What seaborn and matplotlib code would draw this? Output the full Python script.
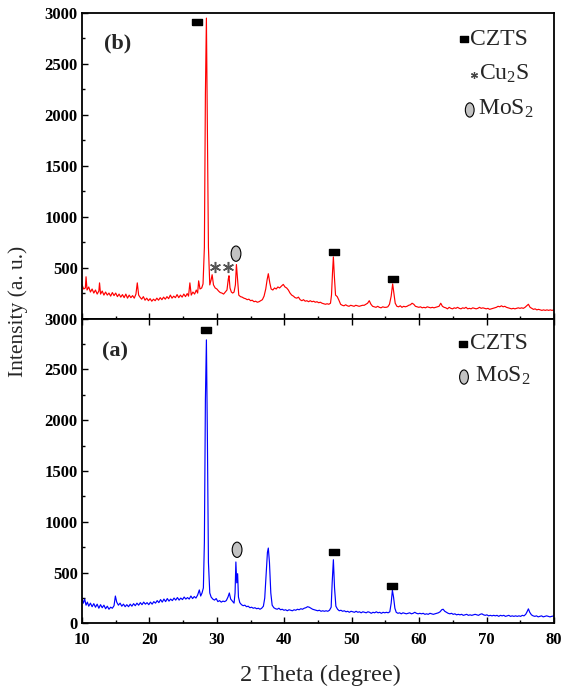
import numpy as np
import pandas as pd
import matplotlib
matplotlib.use('Agg')
import matplotlib.pyplot as plt
from matplotlib.patches import Ellipse
from matplotlib.ticker import MultipleLocator
import seaborn as sns

# (2 theta, intensity), panel (b) red
pattern_b = [
    (10.0, 330), (10.25, 290), (10.5, 300), (10.6, 410), (10.75, 280), (11.0, 310), (11.25, 260),
    (11.5, 290), (11.75, 250), (12.0, 280), (12.25, 240), (12.5, 270), (12.6, 350), (12.75, 240),
    (13.0, 270), (13.25, 230), (13.5, 260), (13.75, 230), (14.0, 250), (14.25, 220), (14.5, 255),
    (14.75, 225), (15.0, 250), (15.25, 215), (15.5, 240), (15.75, 210), (16.0, 235), (16.25, 205),
    (16.5, 240), (16.75, 200), (17.0, 230), (17.25, 205), (17.5, 225), (17.75, 200), (18.0, 240),
    (18.2, 350), (18.4, 230), (18.6, 210), (18.85, 190), (19.1, 215), (19.35, 180), (19.6, 200),
    (19.85, 175), (20.1, 195), (20.35, 170), (20.6, 190), (20.85, 175), (21.1, 200), (21.35, 180),
    (21.6, 205), (21.85, 185), (22.1, 210), (22.35, 190), (22.6, 215), (22.85, 195), (23.1, 230),
    (23.35, 200), (23.6, 220), (23.85, 205), (24.1, 235), (24.35, 205), (24.6, 230), (24.85, 210),
    (25.1, 240), (25.35, 215), (25.6, 245), (25.8, 220), (26.0, 350), (26.2, 230), (26.45, 260),
    (26.7, 240), (26.95, 280), (27.15, 250), (27.3, 370), (27.5, 290), (27.75, 300), (27.95, 340),
    (28.15, 700), (28.3, 2200), (28.45, 2950), (28.6, 1800), (28.75, 700), (28.95, 330), (29.15, 380),
    (29.3, 430), (29.5, 330), (29.75, 300), (30.0, 290), (30.25, 270), (30.5, 255), (30.75, 250),
    (31.0, 240), (31.25, 260), (31.5, 280), (31.7, 390), (31.8, 420), (31.95, 300), (32.15, 260),
    (32.35, 250), (32.55, 260), (32.75, 330), (32.9, 530), (33.05, 400), (33.25, 230), (33.5, 215),
    (33.75, 210), (34.0, 200), (34.25, 195), (34.5, 185), (34.75, 190), (35.0, 175), (35.25, 180),
    (35.5, 165), (35.75, 170), (36.0, 160), (36.25, 165), (36.5, 175), (36.75, 185), (37.0, 220),
    (37.25, 290), (37.45, 380), (37.63, 440), (37.85, 350), (38.05, 290), (38.3, 280), (38.55, 300),
    (38.8, 290), (39.05, 310), (39.3, 300), (39.6, 320), (39.85, 335), (40.1, 310), (40.35, 300),
    (40.6, 280), (40.85, 250), (41.1, 230), (41.35, 220), (41.6, 205), (41.85, 200), (42.1, 210),
    (42.35, 185), (42.6, 175), (42.85, 185), (43.1, 170), (43.35, 175), (43.6, 165), (43.85, 175),
    (44.1, 165), (44.35, 170), (44.6, 160), (44.85, 165), (45.1, 155), (45.35, 160), (45.6, 150),
    (45.85, 145), (46.1, 140), (46.35, 145), (46.6, 140), (46.85, 150), (47.0, 230), (47.15, 450),
    (47.28, 605), (47.42, 420), (47.6, 230), (47.85, 215), (48.1, 180), (48.35, 140), (48.6, 130),
    (48.85, 125), (49.1, 135), (49.35, 125), (49.6, 120), (49.85, 130), (50.1, 125), (50.35, 120),
    (50.6, 130), (50.85, 125), (51.1, 120), (51.35, 125), (51.6, 130), (51.85, 130), (52.1, 140),
    (52.35, 150), (52.6, 175), (52.85, 140), (53.1, 120), (53.35, 115), (53.6, 110), (53.85, 120),
    (54.1, 110), (54.35, 105), (54.6, 115), (54.85, 110), (55.1, 110), (55.35, 115), (55.6, 140),
    (55.85, 220), (56.07, 340), (56.25, 250), (56.45, 150), (56.7, 120), (56.95, 115), (57.2, 125),
    (57.45, 110), (57.7, 120), (57.95, 115), (58.2, 120), (58.45, 130), (58.7, 135), (58.95, 150),
    (59.2, 140), (59.45, 120), (59.7, 115), (59.95, 110), (60.2, 115), (60.45, 105), (60.7, 110),
    (60.95, 105), (61.2, 115), (61.45, 110), (61.7, 105), (61.95, 110), (62.2, 105), (62.45, 110),
    (62.7, 115), (62.95, 120), (63.2, 150), (63.45, 120), (63.7, 110), (63.95, 105), (64.2, 95),
    (64.45, 110), (64.7, 100), (64.95, 95), (65.2, 105), (65.45, 100), (65.7, 110), (65.95, 100),
    (66.2, 95), (66.45, 105), (66.7, 100), (66.95, 110), (67.2, 95), (67.45, 100), (67.7, 95),
    (67.95, 105), (68.2, 100), (68.45, 95), (68.7, 100), (68.95, 110), (69.2, 100), (69.45, 105),
    (69.7, 100), (69.95, 95), (70.2, 100), (70.45, 90), (70.7, 95), (70.95, 100), (71.2, 105),
    (71.45, 110), (71.7, 120), (71.95, 115), (72.2, 125), (72.45, 115), (72.7, 120), (72.95, 110),
    (73.2, 105), (73.45, 100), (73.7, 95), (73.95, 100), (74.2, 95), (74.45, 100), (74.7, 105),
    (74.95, 100), (75.2, 105), (75.45, 100), (75.7, 110), (75.95, 125), (76.2, 140), (76.45, 110),
    (76.7, 100), (76.95, 90), (77.2, 95), (77.45, 85), (77.7, 90), (77.95, 85), (78.2, 80),
    (78.45, 85), (78.7, 80), (78.95, 85), (79.2, 80), (79.45, 85), (79.7, 80), (80.0, 85),
]

# panel (a) blue
pattern_a = [
    (10.0, 250), (10.2, 200), (10.4, 240), (10.6, 180), (10.8, 210), (11.0, 170), (11.25, 200),
    (11.5, 165), (11.75, 195), (12.0, 160), (12.25, 190), (12.5, 150), (12.75, 185), (13.0, 155),
    (13.25, 180), (13.5, 145), (13.75, 170), (14.0, 140), (14.25, 160), (14.5, 150), (14.75, 175),
    (14.95, 270), (15.15, 210), (15.4, 180), (15.65, 200), (15.9, 170), (16.15, 190), (16.4, 165),
    (16.65, 185), (16.9, 165), (17.15, 190), (17.4, 170), (17.65, 195), (17.9, 175), (18.15, 200),
    (18.4, 180), (18.65, 205), (18.9, 185), (19.15, 210), (19.4, 190), (19.65, 205), (19.9, 185),
    (20.15, 210), (20.4, 190), (20.65, 215), (20.9, 200), (21.15, 225), (21.4, 205), (21.65, 235),
    (21.9, 210), (22.15, 240), (22.4, 215), (22.65, 245), (22.9, 220), (23.15, 240), (23.4, 225),
    (23.65, 250), (23.9, 230), (24.15, 255), (24.4, 230), (24.65, 250), (24.9, 235), (25.15, 260),
    (25.4, 240), (25.65, 255), (25.9, 240), (26.15, 270), (26.4, 245), (26.65, 265), (26.9, 250),
    (27.15, 280), (27.4, 330), (27.6, 270), (27.8, 300), (28.0, 350), (28.15, 800), (28.3, 2200),
    (28.45, 2790), (28.6, 1800), (28.75, 600), (28.95, 300), (29.15, 260), (29.4, 240), (29.65, 230),
    (29.9, 245), (30.15, 215), (30.4, 225), (30.65, 210), (30.9, 220), (31.15, 215), (31.4, 225),
    (31.65, 260), (31.85, 300), (32.05, 240), (32.3, 220), (32.55, 200), (32.7, 300), (32.82, 605),
    (32.95, 400), (33.08, 490), (33.2, 260), (33.4, 205), (33.65, 185), (33.9, 175), (34.15, 180),
    (34.4, 165), (34.65, 170), (34.9, 155), (35.15, 160), (35.4, 150), (35.65, 155), (35.9, 145),
    (36.15, 150), (36.4, 140), (36.65, 150), (36.9, 170), (37.1, 250), (37.3, 480), (37.5, 700),
    (37.63, 742), (37.8, 600), (38.0, 300), (38.2, 180), (38.45, 155), (38.7, 145), (38.95, 140),
    (39.2, 150), (39.45, 135), (39.7, 140), (39.95, 130), (40.2, 135), (40.45, 125), (40.7, 135),
    (40.95, 130), (41.2, 125), (41.45, 135), (41.7, 130), (41.95, 140), (42.2, 135), (42.45, 145),
    (42.7, 140), (42.95, 150), (43.2, 155), (43.45, 165), (43.7, 160), (43.95, 150), (44.2, 140),
    (44.45, 135), (44.7, 130), (44.95, 125), (45.2, 130), (45.45, 120), (45.7, 125), (45.95, 120),
    (46.2, 125), (46.45, 120), (46.7, 130), (46.95, 160), (47.1, 400), (47.28, 627), (47.45, 350),
    (47.65, 170), (47.9, 140), (48.15, 125), (48.4, 130), (48.65, 120), (48.9, 125), (49.15, 115),
    (49.4, 120), (49.65, 110), (49.9, 120), (50.15, 115), (50.4, 110), (50.65, 120), (50.9, 110),
    (51.15, 115), (51.4, 105), (51.65, 115), (51.9, 110), (52.15, 105), (52.4, 115), (52.65, 110),
    (52.9, 100), (53.15, 110), (53.4, 105), (53.65, 115), (53.9, 105), (54.15, 110), (54.4, 100),
    (54.65, 110), (54.9, 105), (55.15, 110), (55.4, 105), (55.65, 115), (55.85, 200), (56.03, 327),
    (56.2, 260), (56.4, 150), (56.6, 110), (56.85, 100), (57.1, 105), (57.35, 95), (57.6, 105),
    (57.85, 100), (58.1, 95), (58.35, 100), (58.6, 105), (58.85, 95), (59.1, 100), (59.35, 110),
    (59.6, 100), (59.85, 95), (60.1, 100), (60.35, 95), (60.6, 100), (60.85, 90), (61.1, 95),
    (61.35, 90), (61.6, 100), (61.85, 95), (62.1, 90), (62.35, 95), (62.6, 100), (62.85, 105),
    (63.1, 115), (63.35, 135), (63.55, 140), (63.8, 120), (64.05, 110), (64.3, 100), (64.55, 95),
    (64.8, 100), (65.05, 90), (65.3, 95), (65.55, 85), (65.8, 90), (66.05, 85), (66.3, 90),
    (66.55, 80), (66.8, 85), (67.05, 90), (67.3, 80), (67.55, 85), (67.8, 80), (68.05, 85),
    (68.3, 90), (68.55, 85), (68.8, 80), (69.05, 90), (69.3, 95), (69.55, 85), (69.8, 80),
    (70.05, 85), (70.3, 75), (70.55, 80), (70.8, 75), (71.05, 80), (71.3, 75), (71.55, 80),
    (71.8, 70), (72.05, 80), (72.3, 75), (72.55, 80), (72.8, 70), (73.05, 75), (73.3, 80),
    (73.55, 70), (73.8, 75), (74.05, 70), (74.3, 75), (74.55, 70), (74.8, 75), (75.05, 70),
    (75.3, 80), (75.55, 75), (75.8, 90), (76.0, 115), (76.2, 144), (76.4, 110), (76.65, 85),
    (76.9, 75), (77.15, 70), (77.4, 75), (77.65, 65), (77.9, 70), (78.15, 75), (78.4, 65),
    (78.65, 70), (78.9, 75), (79.15, 70), (79.4, 65), (79.65, 70), (80.0, 75),
]

# phase marks: (2 theta, height)
czts_b = [(27.0, 2914), (47.3, 652), (56.1, 387)]
cu2s_b = [(29.7, 507), (31.6, 507)]
mos2_b = [(32.84, 637)]
czts_a = [(28.4, 2888), (47.3, 699), (56.0, 372)]
mos2_a = [(33.0, 725)]

yticks = [0, 500, 1000, 1500, 2000, 2500, 3000]

sns.set_style('ticks')
plt.rcParams['font.family'] = ['Liberation Serif', 'DejaVu Serif']
plt.rcParams['mathtext.fontset'] = 'custom'
plt.rcParams['mathtext.rm'] = 'Liberation Serif'
plt.rcParams['mathtext.it'] = 'Liberation Serif:italic'

fig = plt.figure(figsize=(5.62, 6.89), dpi=100)
ax_b = fig.add_axes([0.1459, 0.5377, 0.8399, 0.4434])
ax_a = fig.add_axes([0.1459, 0.0951, 0.8399, 0.4426])

rect = [(-1.45, -1), (1.45, -1), (1.45, 1), (-1.45, 1), (-1.45, -1)]
star = (6, 2, 0)


def draw(ax, pts, color):
    df = pd.DataFrame(pts, columns=['theta', 'counts'])
    sns.lineplot(data=df, x='theta', y='counts', color=color, lw=0.85,
                 estimator=None, sort=False, ax=ax, legend=False)


def ellipse(ax, x, y, w=1.45, h=150):
    ax.add_patch(Ellipse((x, y), w, h, facecolor='#c3c3c3', edgecolor='black', lw=0.8, zorder=5))


draw(ax_b, pattern_b, 'red')
draw(ax_a, pattern_a, 'blue')

for ax in (ax_a, ax_b):
    ax.set_xlim(10, 80)
    ax.set_ylim(0, 3000)
    ax.set_xlabel('')
    ax.set_ylabel('')
    ax.xaxis.set_major_locator(MultipleLocator(10))
    ax.xaxis.set_minor_locator(MultipleLocator(5))
    ax.yaxis.set_minor_locator(MultipleLocator(250))
    ax.set_yticks(yticks)
    ax.tick_params(which='both', direction='in', width=1, colors='black')
    ax.tick_params(which='major', length=4)
    ax.tick_params(which='minor', length=2.5)
    ax.tick_params(axis='y', pad=3, labelsize=12)
    ax.tick_params(axis='x', pad=6, labelsize=12)
    for s in ax.spines.values():
        s.set_linewidth(1.3)
        s.set_color('black')
        s.set_visible(True)
    for lab in ax.get_yticklabels() + ax.get_xticklabels():
        lab.set_fontweight('bold')

ax_b.set_yticklabels([''] + [str(v) for v in yticks[1:]])
ax_b.tick_params(axis='x', labelbottom=False, top=False)
ax_a.tick_params(axis='x', top=True)

# peak marks
for x, y in czts_b:
    ax_b.plot(x, y, marker=rect, ms=7, color='black', zorder=5)
for x, y in cu2s_b:
    ax_b.plot(x, y, marker=star, ms=8, mew=1.1, color='#555555', zorder=5)
for x, y in mos2_b:
    ellipse(ax_b, x, y)
for x, y in czts_a:
    ax_a.plot(x, y, marker=rect, ms=7, color='black', zorder=5)
for x, y in mos2_a:
    ellipse(ax_a, x, y)

# key
ax_b.plot(66.6, 2744, marker=rect, ms=6, color='black')
ax_b.text(67.5, 2744, 'CZTS', fontsize=17, va='center', ha='left')
ax_b.plot(68.1, 2390, marker=star, ms=5, mew=0.9, color='#444444')
ax_b.text(68.9, 2400, 'Cu$_2$S', fontsize=17, va='center', ha='left')
ellipse(ax_b, 67.5, 2048, w=1.3, h=140)
ax_b.text(68.8, 2060, 'MoS$_2$', fontsize=17, va='center', ha='left')
ax_b.text(13.2, 2700, '(b)', fontsize=16, fontweight='bold', va='center', ha='left')

ax_a.plot(66.45, 2751, marker=rect, ms=6, color='black')
ax_a.text(67.5, 2751, 'CZTS', fontsize=17, va='center', ha='left')
ellipse(ax_a, 66.65, 2424, w=1.3, h=140)
ax_a.text(68.3, 2436, 'MoS$_2$', fontsize=17, va='center', ha='left')
ax_a.text(12.9, 2680, '(a)', fontsize=16, fontweight='bold', va='center', ha='left')

fig.text(0.032, 0.548, 'Intensity (a. u.)', rotation=90, fontsize=15.5, va='center', ha='center')
fig.text(0.571, 0.02, '2 Theta (degree)', fontsize=17.5, va='center', ha='center')

plt.savefig('out.png', dpi=100)
